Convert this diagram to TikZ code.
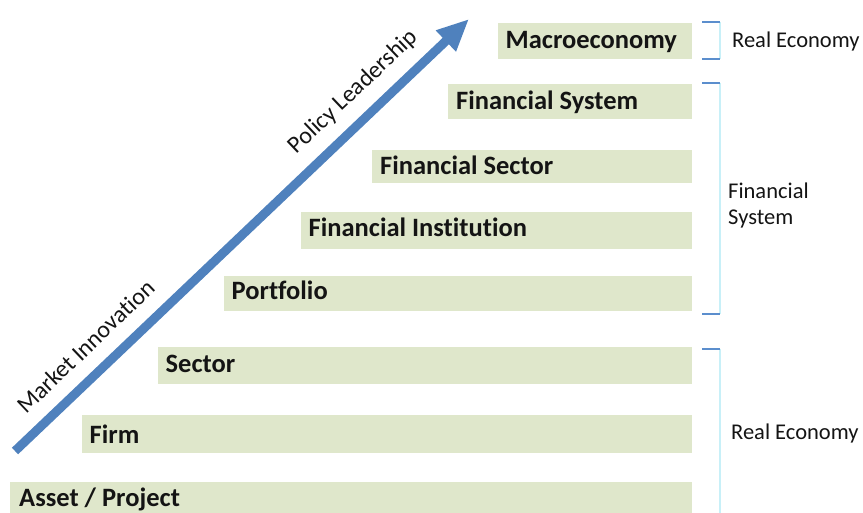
\documentclass[tikz,border=0pt]{standalone}
\usepackage{fontspec}
\setmainfont{Carlito}[Ligatures=NoCommon]
\usetikzlibrary{arrows.meta,calc}
\definecolor{barfill}{RGB}{223,231,203}
\definecolor{arrowblue}{RGB}{79,129,189}
\definecolor{brackblue}{RGB}{91,142,205}
\definecolor{brackcyan}{RGB}{200,240,248}
\definecolor{txt}{RGB}{20,20,20}
\begin{document}
\begin{tikzpicture}[x=1pt,y=-1pt,
  bar/.style={fill=barfill, draw=none, rectangle, inner sep=0pt, anchor=north west},
  bartext/.style={font=\fontsize{26.5}{30}\selectfont\bfseries, text=txt, inner sep=0pt, anchor=base west},
  sidetext/.style={font=\fontsize{22.5}{27}\selectfont, text=txt, inner sep=0pt, anchor=base west, align=left},
  arrowlabel/.style={font=\fontsize{24}{28}\selectfont, text=txt, inner sep=0pt, sloped},
  bigarrow/.style={draw=arrowblue, line width=9pt, -{Triangle[length=32pt, width=27pt]}},
  brackh/.style={draw=brackblue, line width=1.2pt},
  brackv/.style={draw=brackcyan, line width=1.2pt}
]
\useasboundingbox (0,0) rectangle (863,513);

% bars
\node[bar, minimum width=194pt, minimum height=36pt] (b8) at (498,23) {};
\node[bar, minimum width=244pt, minimum height=35pt] (b7) at (448,84) {};
\node[bar, minimum width=320pt, minimum height=33pt] (b6) at (372,150) {};
\node[bar, minimum width=391pt, minimum height=37pt] (b5) at (301,212) {};
\node[bar, minimum width=468pt, minimum height=35pt] (b4) at (224,276) {};
\node[bar, minimum width=534pt, minimum height=37pt] (b3) at (158,347) {};
\node[bar, minimum width=610pt, minimum height=38pt] (b2) at (82,415) {};
\node[bar, minimum width=682pt, minimum height=31pt] (b1) at (10,482) {};

% bar texts
\node[bartext] (t8) at (505.5,49) {Macroeconomy};
\node[bartext] (t7) at (456,109.3) {Financial System};
\node[bartext] (t6) at (380,174.5) {Financial Sector};
\node[bartext] (t5) at (308.5,236.7) {Financial Institution};
\node[bartext] (t4) at (231.5,299.3) {Portfolio};
\node[bartext] (t3) at (165.5,372.3) {Sector};
\node[bartext] (t2) at (89.5,443.3) {Firm};
\node[bartext] (t1) at (19,506.7) {Asset / Project};

% arrow
\coordinate (tail) at (15,451);
\coordinate (tip) at (469,19);
\draw[bigarrow] (tail) -- (tip)
  node[arrowlabel, pos=0.197, above=14pt] (mi) {Market Innovation}
  node[arrowlabel, pos=0.786, above=12pt] (pl) {Policy Leadership};

% brackets
\coordinate (k1a) at (702,22);  \coordinate (k1b) at (720,22);
\coordinate (k1c) at (720,59);  \coordinate (k1d) at (702,59);
\draw[brackv] (k1b) -- (k1c);
\draw[brackh] (k1a) -- (k1b);
\draw[brackh] (k1d) -- (k1c);

\coordinate (k2a) at (702,83);  \coordinate (k2b) at (720,83);
\coordinate (k2c) at (720,314); \coordinate (k2d) at (702,314);
\draw[brackv] (k2b) -- (k2c);
\draw[brackh] (k2a) -- (k2b);
\draw[brackh] (k2d) -- (k2c);

\coordinate (k3a) at (702,349); \coordinate (k3b) at (720,349);
\coordinate (k3c) at (720,513);
\draw[brackv] (k3b) -- (k3c);
\draw[brackh] (k3a) -- (k3b);

% side labels
\node[sidetext] (s1) at (732,47.7) {Real Economy};
\node[sidetext] (s2) at (728,198.3) {Financial};
\node[sidetext] (s3) at (728,225) {System};
\node[sidetext] (s4) at (731,439.3) {Real Economy};
\end{tikzpicture}
\end{document}
